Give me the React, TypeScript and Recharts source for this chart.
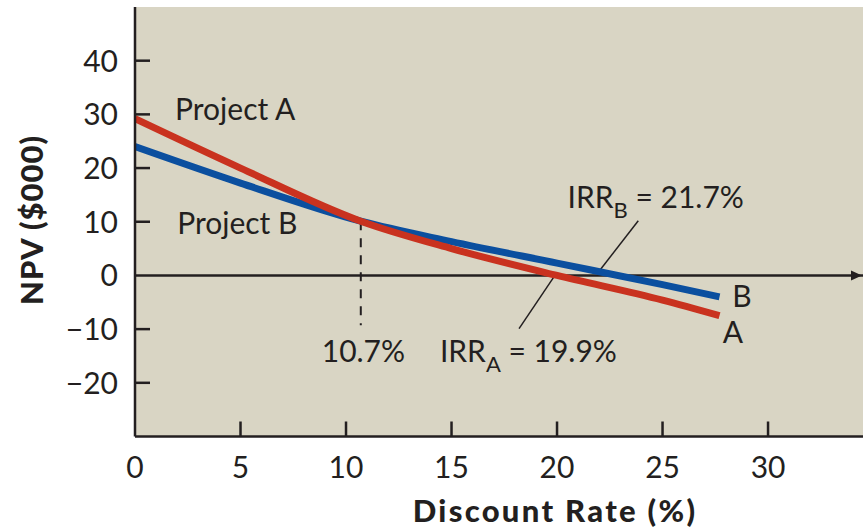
import React from 'react';
import {
  LineChart,
  Line,
  XAxis,
  YAxis,
  CartesianGrid,
  ReferenceLine,
  ReferenceDot,
} from 'recharts';

// discount rates (%) and NPV ($000)
const rates = [0, 5, 10.7, 15, 20, 25, 27.7];
const npvA = [29.2, 20.0, 10.1, 5.0, 0, -4.6, -7.5];
const npvB = [24, 17.2, 10.1, 6.3, 2.3, -1.7, -4.0];

const xTicks = [0, 5, 10, 15, 20, 25, 30];
const yTicks = [-20, -10, 0, 10, 20, 30, 40];

const crossover = 10.7;
const irrA = 19.9;
const irrB = 21.7;

const data = rates.map((r, i) => ({ rate: r, A: npvA[i], B: npvB[i] }));

const INK = '#231f20';
const FONT = 'Lato, "Open Sans", sans-serif';
const RED = '#c9321f';
const BLUE = '#0b4f9f';
const BG = '#d9d5c4';

const fmt = (v: number) => (v < 0 ? `\u2212${Math.abs(v)}` : `${v}`);

const YTick = (props: any) => {
  const { x, y, payload } = props;
  return (
    <g>
      {payload.value !== 0 && (
        <line x1={x} x2={x + 15} y1={y} y2={y} stroke={INK} strokeWidth={2.5} />
      )}
      <text x={x - 17} y={y + 11} textAnchor="end" fontSize={30} fill={INK} fontFamily={FONT}>
        {fmt(payload.value)}
      </text>
    </g>
  );
};

const XTick = (props: any) => {
  const { x, y, payload } = props;
  return (
    <g>
      {payload.value !== 0 && (
        <line x1={x} x2={x} y1={y} y2={y - 15} stroke={INK} strokeWidth={2.5} />
      )}
      <text x={x} y={y + 41} textAnchor="middle" fontSize={30} fill={INK} fontFamily={FONT}>
        {payload.value}
      </text>
    </g>
  );
};

// annotation anchors in data units (text baseline, left edge)
const notes = [
  { x: 1.9, y: 28.9, text: 'Project A' },
  { x: 2.0, y: 7.8, text: 'Project B' },
  { x: 8.85, y: -16.2, text: '10.7%' },
  { x: 28.3, y: -5.95, text: 'B' },
  { x: 27.85, y: -12.5, text: 'A' },
];

const irrNotes = [
  { x: 20.5, y: 12.5, sub: 'B', value: irrB },
  { x: 14.45, y: -16.2, sub: 'A', value: irrA },
];

const leaderA = [
  { x: irrA, y: 0 },
  { x: 18.2, y: -9.9 },
];
const leaderB = [
  { x: 21.9, y: 0.3 },
  { x: 23.85, y: 10.2 },
];
const dashed = [
  { x: crossover, y: 10.1 },
  { x: crossover, y: -9.3 },
];

export default function App() {
  return (
    <div style={{ position: 'absolute', left: 0, top: 0, background: '#fff' }}>
      <LineChart
        width={863}
        height={532}
        data={data}
        margin={{ top: 7, right: 0, bottom: 0, left: 0 }}
      >
        <CartesianGrid horizontal={false} vertical={false} fill={BG} fillOpacity={1} />
        <XAxis
          dataKey="rate"
          type="number"
          domain={[0, 34.5]}
          ticks={xTicks}
          height={95.5}
          tickSize={0}
          tickMargin={0}
          tickLine={false}
          tick={<XTick />}
          axisLine={{ stroke: INK, strokeWidth: 2.5 }}
          allowDataOverflow
          label={{
            content: () => (
              <text
                x={555}
                y={522}
                textAnchor="middle"
                fontSize={31}
                fontWeight={900}
                letterSpacing={2.3}
                fill={INK}
                fontFamily={FONT}
              >
                Discount Rate (%)
              </text>
            ),
          }}
        />
        <YAxis
          type="number"
          domain={[-30, 50]}
          ticks={yTicks}
          width={135}
          tickSize={0}
          tickMargin={0}
          tickLine={false}
          tick={<YTick />}
          axisLine={{ stroke: INK, strokeWidth: 2.5 }}
          allowDataOverflow
          label={{
            content: () => (
              <text
                x={43}
                y={220}
                transform="rotate(-90 43 220)"
                textAnchor="middle"
                fontSize={31}
                fontWeight={900}
                letterSpacing={1}
                fill={INK}
                fontFamily={FONT}
              >
                NPV ($000)
              </text>
            ),
          }}
        />
        <ReferenceLine y={0} stroke={INK} strokeWidth={2.5} />
        <ReferenceDot
          x={34.5}
          y={0}
          r={0}
          shape={(p: any) => (
            <path
              d={`M${p.cx - 1} ${p.cy} L${p.cx - 12} ${p.cy - 5} L${p.cx - 12} ${p.cy + 5} Z`}
              fill={INK}
            />
          )}
        />
        <ReferenceLine segment={dashed} stroke={INK} strokeWidth={2} strokeDasharray="9 8" />
        <ReferenceLine segment={leaderA} stroke={INK} strokeWidth={1.5} />
        <ReferenceLine segment={leaderB} stroke={INK} strokeWidth={1.5} />
        <Line
          type="monotone"
          dataKey="B"
          stroke={BLUE}
          strokeWidth={7}
          dot={false}
          activeDot={false}
          isAnimationActive={false}
        />
        <Line
          type="monotone"
          dataKey="A"
          stroke={RED}
          strokeWidth={7}
          dot={false}
          activeDot={false}
          isAnimationActive={false}
        />
        {notes.map((n) => (
          <ReferenceDot
            key={n.text}
            x={n.x}
            y={n.y}
            r={0}
            shape={(p: any) => (
              <text x={p.cx} y={p.cy} fontSize={30} fill={INK} fontFamily={FONT}>
                {n.text}
              </text>
            )}
          />
        ))}
        {irrNotes.map((n) => (
          <ReferenceDot
            key={n.sub}
            x={n.x}
            y={n.y}
            r={0}
            shape={(p: any) => (
              <text x={p.cx} y={p.cy} fontSize={30} fill={INK} fontFamily={FONT}>
                <tspan>IRR</tspan>
                <tspan fontSize={22} dy={10}>
                  {n.sub}
                </tspan>
                <tspan dy={-10}>{` = ${n.value}%`}</tspan>
              </text>
            )}
          />
        ))}
      </LineChart>
    </div>
  );
}
